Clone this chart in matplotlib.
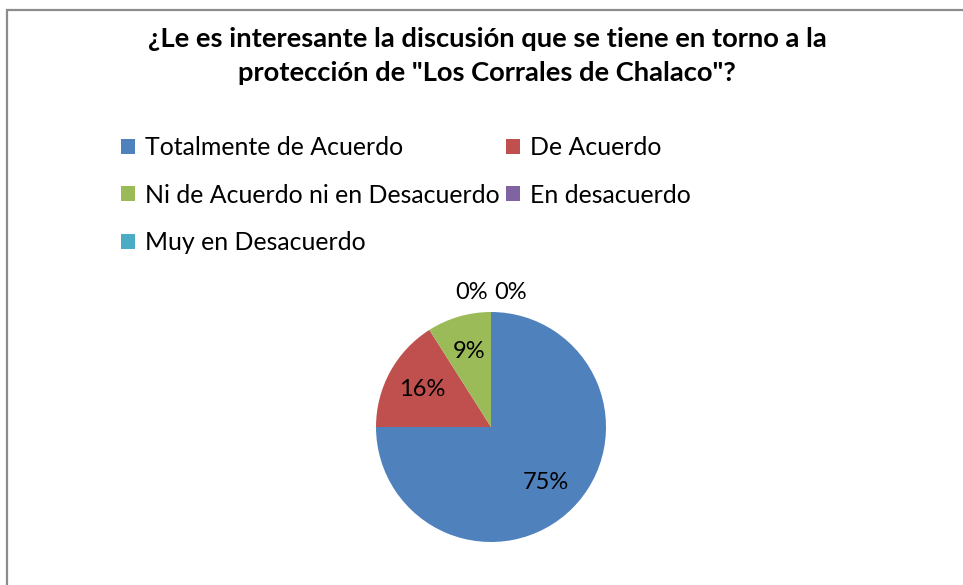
import matplotlib
matplotlib.use("Agg")
import matplotlib.pyplot as plt
from matplotlib.patches import Rectangle

# data
categories = ["Totalmente de Acuerdo", "De Acuerdo",
              "Ni de Acuerdo ni en Desacuerdo", "En desacuerdo",
              "Muy en Desacuerdo"]
percentages = [75, 16, 9, 0, 0]
colors = ["#4F81BD", "#C0504D", "#9BBB59", "#8064A2", "#4BACC6"]
title = '¿Le es interesante la discusión que se tiene en torno a la\nprotección de "Los Corrales de Chalaco"?'

plt.rcParams['font.family'] = ['Lato', 'DejaVu Sans']

W, H = 963, 585
fig = plt.figure(figsize=(W / 100, H / 100), dpi=100)
fig.patch.set_facecolor("white")

# chart border (gray frame, runs off the right and bottom)
fig.add_artist(Rectangle((6.5 / W, -0.1), 1.2, 1.1 - 10.5 / H,
                         transform=fig.transFigure, fill=False,
                         edgecolor="#8c8c8c", linewidth=1.6))

fig.text(487 / W, 1 - 56 / H, title, ha="center", va="center",
         fontsize=19.7, fontweight="bold", linespacing=1.46)

# pie: center (491, 427), radius 115 px
r = 115
ax = fig.add_axes([(491 - r) / W, 1 - (427 + r) / H, 2 * r / W, 2 * r / H])
wedges, texts, autotexts = ax.pie(
    percentages, colors=colors, startangle=90, counterclock=False,
    autopct=lambda p: f"{p:.0f}%", pctdistance=0.68,
    textprops=dict(fontsize=17, color="black"),
    wedgeprops=dict(linewidth=0))
ax.set_xlim(-1, 1)
ax.set_ylim(-1, 1)
ax.set_aspect("equal")
ax.axis("off")

# the empty slices get their labels set above the pie
zero_offsets = [-0.17, 0.17]
k = 0
for val, t in zip(percentages, autotexts):
    if val == 0:
        t.set_position((zero_offsets[k], 1.17))
        k += 1

# legend reads row by row in the reference, matplotlib fills by column
order = [0, 2, 4, 1, 3]
leg = fig.legend([wedges[i] for i in order], [categories[i] for i in order],
                 ncol=2, loc="upper left",
                 bbox_to_anchor=(121 / W, 1 - 136 / H),
                 frameon=False, fontsize=17.9, handlelength=0.55,
                 handleheight=0.55, handletextpad=0.42, columnspacing=0.25,
                 labelspacing=0.99, borderaxespad=0, borderpad=0)

fig.savefig("out.png", dpi=100, facecolor="white")
